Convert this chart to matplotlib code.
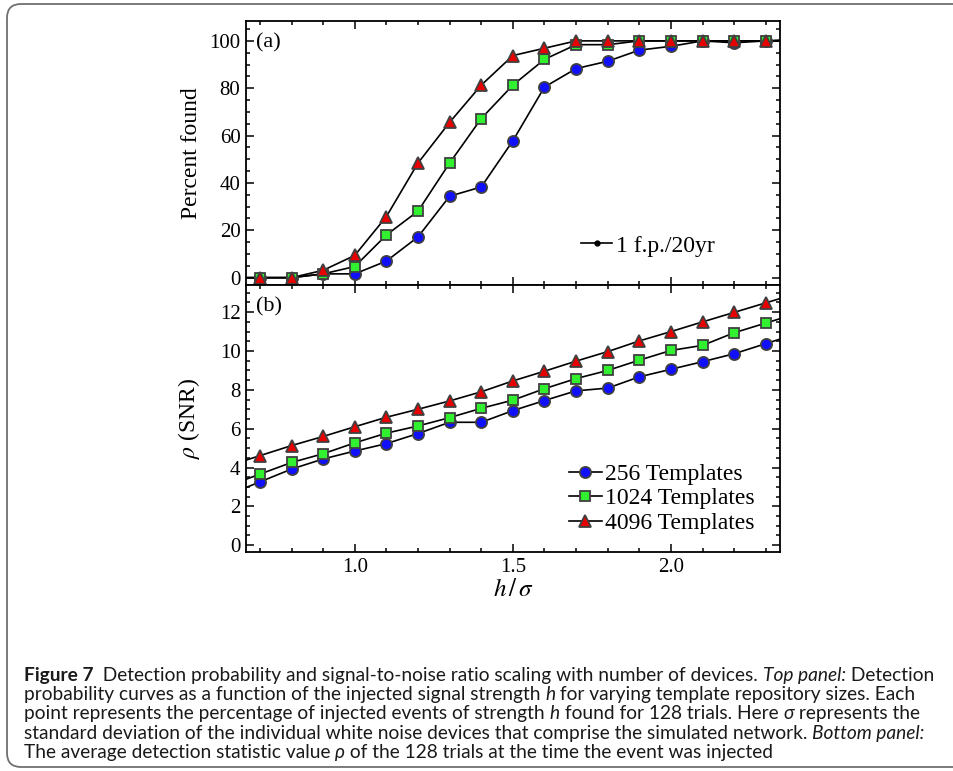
import numpy as np
import matplotlib.pyplot as plt
from matplotlib.lines import Line2D
from matplotlib.patches import FancyBboxPatch
from matplotlib.transforms import IdentityTransform
from matplotlib.ticker import MultipleLocator

# injected signal strength h/sigma
h = [0.7, 0.8, 0.9, 1.0, 1.1, 1.2, 1.3, 1.4, 1.5, 1.6, 1.7, 1.8, 1.9, 2.0, 2.1, 2.2, 2.3]

# (a) percent found at 1 f.p./20yr
found_256 = [0, 0, 1.6, 1.6, 7.0, 17.2, 34.4, 38.3, 57.8, 80.5, 88.3, 91.4, 96.1, 97.7, 100, 99.2, 100]
found_1024 = [0, 0, 1.6, 4.7, 18.0, 28.1, 48.4, 67.2, 81.3, 92.2, 98.4, 98.4, 100, 100, 100, 100, 100]
found_4096 = [0, 0, 3.1, 9.4, 25.8, 48.4, 65.6, 81.3, 93.8, 96.9, 100, 100, 100, 100, 100, 100, 100]

# (b) mean detection statistic
snr_256 = [3.26, 3.92, 4.44, 4.85, 5.23, 5.75, 6.33, 6.33, 6.93, 7.45, 7.95, 8.09, 8.67, 9.06, 9.45, 9.86, 10.38]
snr_1024 = [3.66, 4.26, 4.71, 5.27, 5.77, 6.14, 6.57, 7.05, 7.47, 8.06, 8.58, 9.00, 9.53, 10.03, 10.29, 10.94, 11.44]
snr_4096 = [4.61, 5.13, 5.60, 6.10, 6.59, 7.00, 7.43, 7.90, 8.46, 8.96, 9.48, 9.97, 10.52, 11.00, 11.50, 11.99, 12.48]

labels = ["256 Templates", "1024 Templates", "4096 Templates"]

XLIM = (0.656, 2.345)
serif = "Liberation Serif"
styles = [
    dict(marker="o", ms=8, mfc="#1010ff"),
    dict(marker="s", ms=6.6, mfc="#30f030"),
    dict(marker="^", ms=8.5, mfc="#e80000"),
]


def extend(x, y, lo, hi):
    # carry the first and last segments out to the frame edges
    x = np.asarray(x, float)
    y = np.asarray(y, float)
    s0 = (y[1] - y[0]) / (x[1] - x[0])
    s1 = (y[-1] - y[-2]) / (x[-1] - x[-2])
    xe = np.concatenate([[lo], x, [hi]])
    ye = np.concatenate([[y[0] + s0 * (lo - x[0])], y, [y[-1] + s1 * (hi - x[-1])]])
    return xe, ye


def draw_series(ax, series):
    for y, st in zip(series, styles):
        xe, ye = extend(h, y, *XLIM)
        ax.plot(xe, ye, color="black", lw=1.2, zorder=2)
        ax.plot(h, y, ls="none", mec="#404040", mew=1.3, zorder=3, **st)


def style_axes(ax):
    ax.set_xlim(*XLIM)
    ax.xaxis.set_major_locator(MultipleLocator(0.5))
    ax.xaxis.set_minor_locator(MultipleLocator(0.1))
    ax.tick_params(which="both", direction="in", top=True, right=True,
                   width=1.1, labelsize=15, pad=4)
    ax.tick_params(which="major", length=6)
    ax.tick_params(which="minor", length=3)
    for lab in ax.get_xticklabels() + ax.get_yticklabels():
        lab.set_fontfamily(serif)
    for sp in ax.spines.values():
        sp.set_linewidth(1.3)


fig = plt.figure(figsize=(9.54, 7.71), dpi=100)
W, H = 954, 771
left, right = 246 / W, 780 / W
ax1 = fig.add_axes([left, 1 - 285 / H, right - left, (285 - 21) / H])
ax2 = fig.add_axes([left, 1 - 552 / H, right - left, (552 - 285) / H])

# top panel
draw_series(ax1, [found_256, found_1024, found_4096])
ax1.set_ylim(-3.1, 108.4)
ax1.yaxis.set_major_locator(MultipleLocator(20))
ax1.yaxis.set_minor_locator(MultipleLocator(5))
style_axes(ax1)
ax1.tick_params(labelbottom=False)
ax1.set_ylabel("Percent found", fontsize=17, fontfamily=serif)
ax1.yaxis.set_label_coords(-0.082, 0.5)
ax1.text(0.018, 0.955, "(a)", transform=ax1.transAxes, fontsize=16,
         fontfamily=serif, va="top")
fp = Line2D([], [], color="black", lw=1.2, marker="o", ms=3.5)
ax1.legend([fp], ["1 f.p./20yr"], loc="center left", bbox_to_anchor=(0.606, 0.148),
           frameon=False, handlelength=1.3, handletextpad=0.15, borderpad=0,
           prop={"family": serif, "size": 17})

# bottom panel
draw_series(ax2, [snr_256, snr_1024, snr_4096])
ax2.set_ylim(-0.35, 13.4)
ax2.yaxis.set_major_locator(MultipleLocator(2))
ax2.yaxis.set_minor_locator(MultipleLocator(0.5))
style_axes(ax2)
ax2.set_ylabel(r"$\rho$ (SNR)", fontsize=17, fontfamily=serif, math_fontfamily="stix")
ax2.yaxis.set_label_coords(-0.082, 0.5)
ax2.set_xlabel(r"$h\,/\,\sigma$", fontsize=18, math_fontfamily="stix", labelpad=0)
ax2.text(0.018, 0.955, "(b)", transform=ax2.transAxes, fontsize=16,
         fontfamily=serif, va="top")
handles = [Line2D([], [], color="black", lw=1.2, mec="#404040", mew=1.3, **st) for st in styles]
ax2.legend(handles, labels, loc="lower left", bbox_to_anchor=(0.582, 0.024),
           frameon=False, handlelength=1.4, handletextpad=0.15, borderpad=0,
           labelspacing=0.12, prop={"family": serif, "size": 17})

# rounded box around figure and caption
box = FancyBboxPatch((7, 4), 990, 763, boxstyle="round,pad=0,rounding_size=14",
                     transform=IdentityTransform(), fill=False, ec="#707070", lw=1.3)
fig.add_artist(box)

# caption, set run by run so bold/italic pieces sit inline
cap_font = "Lato"
caption = [
    [("Figure 7", "bold"), ("  Detection probability and signal-to-noise ratio scaling with number of devices. ", "normal"),
     ("Top panel:", "italic"), (" Detection", "normal")],
    [("probability curves as a function of the injected signal strength ", "normal"), ("h", "italic"),
     (" for varying template repository sizes. Each", "normal")],
    [("point represents the percentage of injected events of strength ", "normal"), ("h", "italic"),
     (" found for 128 trials. Here ", "normal"), ("σ", "italic"), (" represents the", "normal")],
    [("standard deviation of the individual white noise devices that comprise the simulated network. ", "normal"),
     ("Bottom panel:", "italic")],
    [("The average detection statistic value ", "normal"), ("ρ", "italic"),
     (" of the 128 trials at the time the event was injected", "normal")],
]

renderer = fig.canvas.get_renderer()


def run_props(style, size):
    return dict(fontfamily=[cap_font, "DejaVu Sans"], fontsize=size,
                fontweight="bold" if style == "bold" else "normal",
                fontstyle="italic" if style == "italic" else "normal")


def text_width(s, style, size):
    # padded with a letter on each side so edge spaces are counted
    t1 = fig.text(0, 0, "a" + s + "a", **run_props(style, size))
    t2 = fig.text(0, 0, "aa", **run_props(style, size))
    w = t1.get_window_extent(renderer).width - t2.get_window_extent(renderer).width
    t1.remove()
    t2.remove()
    return w


base = 11
w0 = sum(text_width(s, st, base) for s, st in caption[0])
size = base * 912 / w0

y0, dy = 681, 19.2
for i, line in enumerate(caption):
    x = 24
    for s, st in line:
        fig.text(x / W, 1 - (y0 + i * dy) / H, s, va="baseline", ha="left",
                 color="#1a1a1a", **run_props(st, size))
        x += text_width(s, st, size)

fig.savefig("out.png", dpi=100)
